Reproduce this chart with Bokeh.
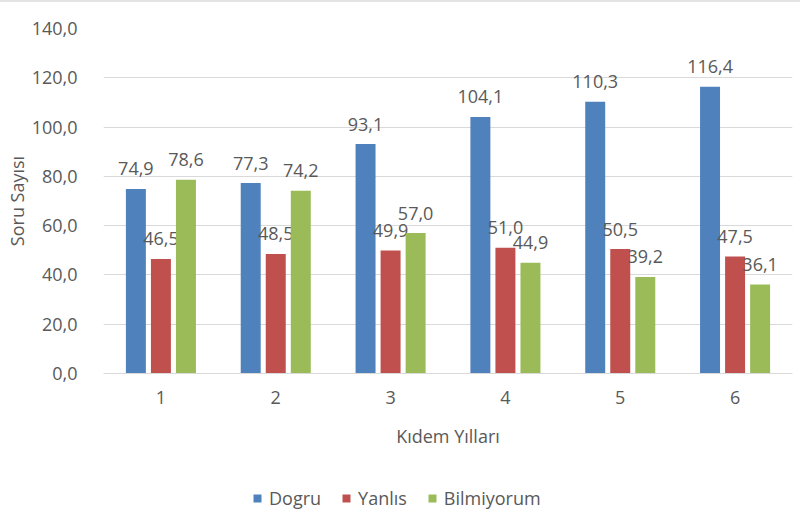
from bokeh.plotting import figure
from bokeh.layouts import column
from bokeh.models import ColumnDataSource, FactorRange, Range1d, Legend, LegendItem, CustomJSTickFormatter, FixedTicker
from bokeh.transform import dodge
from bokeh.core.properties import value
from bokeh.embed import file_html
from bokeh.resources import INLINE

years = ["1", "2", "3", "4", "5", "6"]
dogru = [74.9, 77.3, 93.1, 104.1, 110.3, 116.4]
yanlis = [46.5, 48.5, 49.9, 51.0, 50.5, 47.5]
bilmiyorum = [78.6, 74.2, 57.0, 44.9, 39.2, 36.1]
series_names = ["Dogru", "Yanlıs", "Bilmiyorum"]
y_ticks = [0, 20, 40, 60, 80, 100, 120, 140]

colors = ["#4F81BD", "#C0504D", "#9BBB59"]
FONT = "Open Sans"
TXT = "#595959"

def fmt(v):
    return f"{v:.1f}".replace(".", ",")

src = ColumnDataSource(dict(
    x=years, d=dogru, y=yanlis, b=bilmiyorum,
    dl=[fmt(v) for v in dogru], yl=[fmt(v) for v in yanlis], bl=[fmt(v) for v in bilmiyorum],
))

p = figure(width=800, height=460, x_range=FactorRange(*years, range_padding=0),
           y_range=Range1d(0, 140), output_backend="svg", toolbar_location=None,
           min_border_left=103, min_border_right=8, min_border_top=28, min_border_bottom=87)
p.border_fill_color = None
p.styles = {"box-shadow": "inset 0 2px 0 #E3E3E3", "background-color": "white"}

offs = [-0.218, 0.0, 0.218]
cols = ["d", "y", "b"]
lcols = ["dl", "yl", "bl"]
for off, c, lc, col in zip(offs, cols, lcols, colors):
    p.vbar(x=dodge("x", off, range=p.x_range), top=c, width=0.174, source=src,
           fill_color=col, line_color=None)
    p.text(x=dodge("x", off, range=p.x_range), y=c, text=lc, source=src,
           text_align="center", text_baseline="alphabetic", y_offset=-20,
           text_font=value(FONT), text_font_size="18px", text_color=TXT)

p.xgrid.grid_line_color = None
p.ygrid.grid_line_color = "#D9D9D9"
p.ygrid.grid_line_width = 1
p.yaxis.ticker = FixedTicker(ticks=y_ticks)
p.yaxis.formatter = CustomJSTickFormatter(code="return tick.toFixed(1).replace('.', ',');")
p.outline_line_color = None

for ax in (p.xaxis[0], p.yaxis[0]):
    ax.major_tick_line_color = None
    ax.minor_tick_line_color = None
    ax.major_label_text_font = FONT
    ax.major_label_text_font_size = "18px"
    ax.major_label_text_color = TXT
    ax.axis_label_text_font = FONT
    ax.axis_label_text_font_size = "18px"
    ax.axis_label_text_color = TXT
    ax.axis_label_text_font_style = "normal"

p.yaxis.axis_line_color = None
p.xaxis.axis_line_color = "#D9D9D9"
p.yaxis.axis_label = "Soru Sayısı"
p.xaxis.axis_label = "Kıdem Yılları"
p.yaxis.major_label_standoff = 20
p.yaxis.axis_label_standoff = 0
p.xaxis.major_label_standoff = 11
p.xaxis.axis_label_standoff = 17

# legend strip below the chart (its frame is aligned with the chart's frame)
lg = figure(width=800, height=49, x_range=Range1d(0, 1), y_range=Range1d(0, 1),
            output_backend="svg", toolbar_location=None,
            min_border_left=0, min_border_right=0, min_border_top=0, min_border_bottom=0)
lg.axis.visible = False
lg.grid.grid_line_color = None
lg.outline_line_color = None
proxies = [lg.vbar(x=[-5], top=[-5], bottom=[-6], width=1, fill_color=col, line_color=None)
           for col in colors]
legend = Legend(items=[LegendItem(label=n, renderers=[r]) for n, r in zip(series_names, proxies)],
                orientation="horizontal", location=(149, -1),
                label_text_font=FONT, label_text_font_size="18px", label_text_color=TXT,
                glyph_width=10, glyph_height=10, label_height=16, label_standoff=7, spacing=20,
                padding=0, margin=0, border_line_color=None, background_fill_alpha=0)
lg.add_layout(legend, "center")

layout = column(p, lg, spacing=0)
open("out.html", "w").write(file_html(layout, INLINE))
